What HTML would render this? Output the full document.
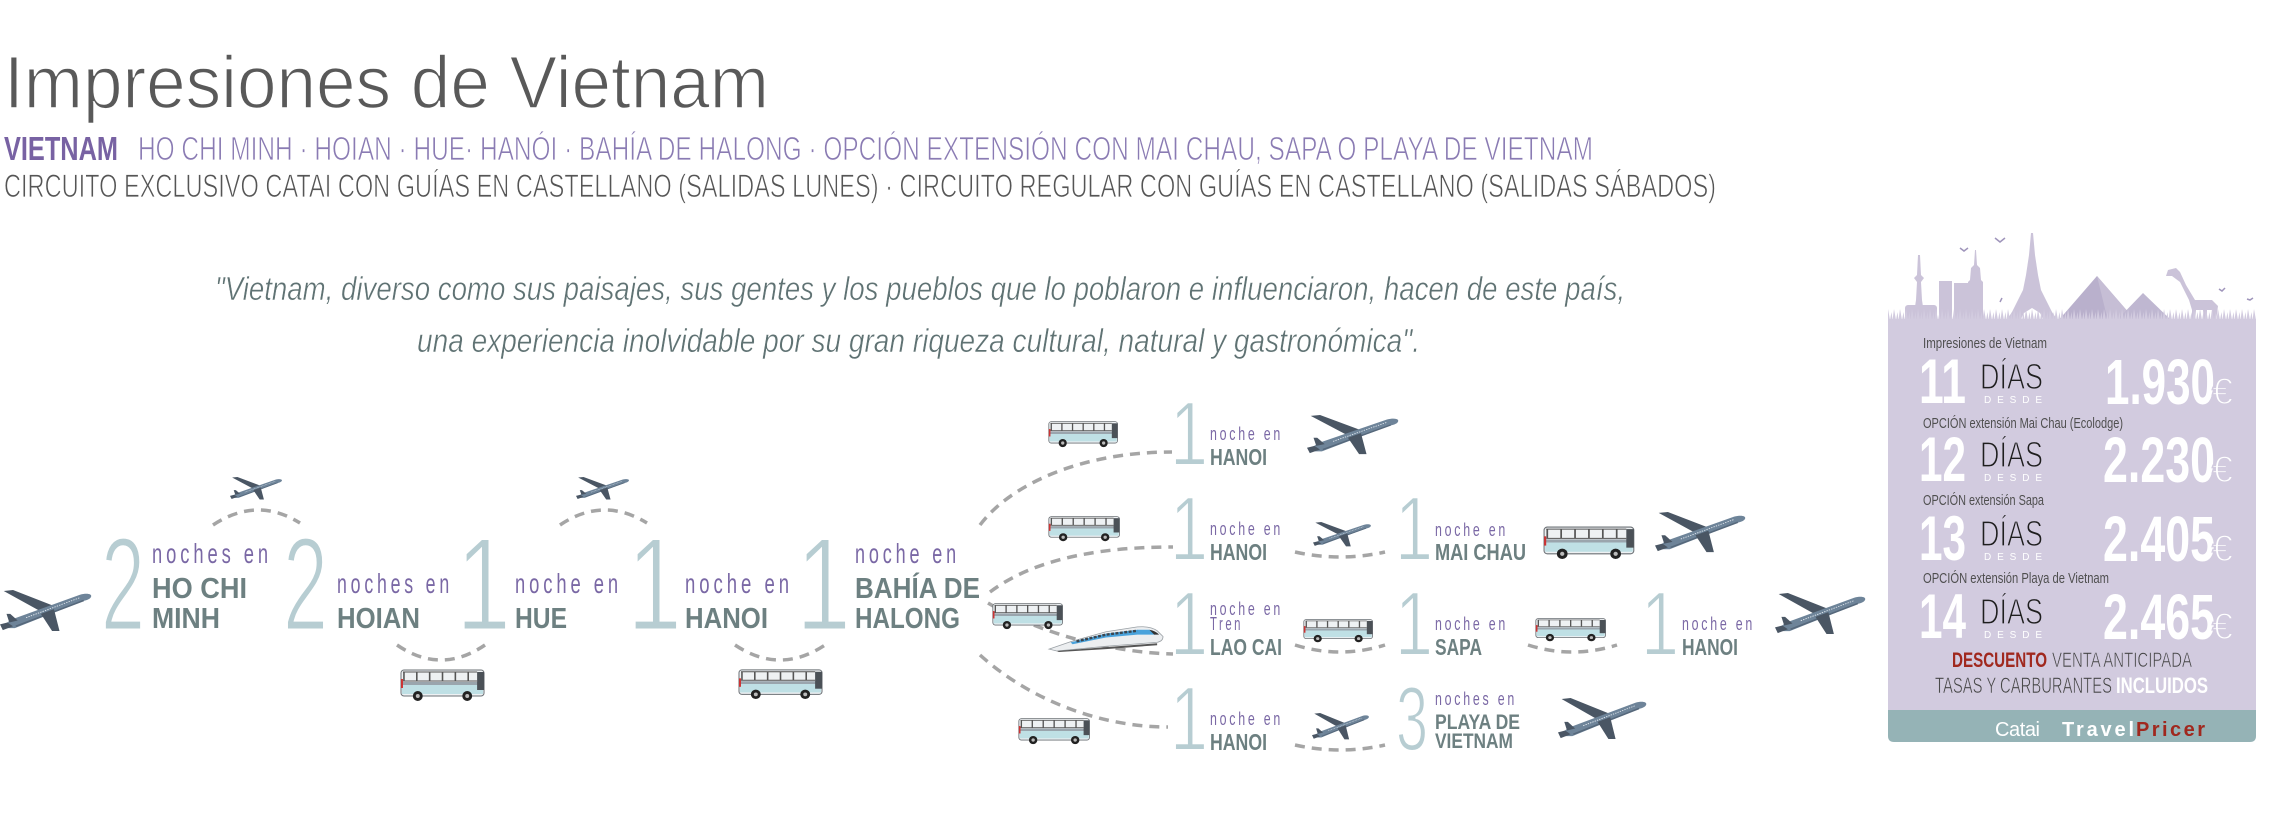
<!DOCTYPE html>
<html>
<head>
<meta charset="utf-8">
<style>
html,body{margin:0;padding:0;background:#fff;}
body{width:2278px;height:816px;overflow:hidden;}
svg{display:block;}
text{font-family:"Liberation Sans","DejaVu Sans",sans-serif;}
</style>
</head>
<body>
<svg width="2278" height="816" viewBox="0 0 2278 816" xmlns="http://www.w3.org/2000/svg">
<defs>
  <symbol id="plane" viewBox="0 0 100 44" preserveAspectRatio="none">
    <polygon points="4,1 14,0 56,16 43,22" fill="#4a5664"/>
    <path d="M5,36 L12,31 L86,5 C93,3 99,4 98,7 C97,10 92,11 88,12 L16,40 L8,40 Z" fill="#6e8499"/>
    <line x1="17" y1="38" x2="90" y2="11" stroke="#56687b" stroke-width="1.6"/>
    <line x1="28" y1="29" x2="86" y2="8" stroke="#e4eaf0" stroke-width="0.9" stroke-dasharray="1.5 1.2"/>
    <polygon points="44,25 58,20 64,43 56,43" fill="#4a5664"/>
    <polygon points="7,25 11,25 19,32 10,34" fill="#4a5664"/>
    <polygon points="0,36 8,34 14,38 3,42" fill="#4a5664"/>
  </symbol>
  <symbol id="bus" viewBox="0 0 88 34" preserveAspectRatio="none">
    <rect x="1" y="2" width="84" height="26" rx="3" fill="#eef1f3" stroke="#6b7075" stroke-width="1"/>
    <rect x="2" y="16" width="82" height="10" fill="#bfe0e5"/>
    <rect x="2" y="14" width="82" height="3" fill="#9aa5ad"/>
    <path d="M3,4 H78 M3,13 H78" stroke="#555" stroke-width="1"/>
    <path d="M4,4 V13 M17,4 V13 M30,4 V13 M43,4 V13 M56,4 V13 M69,4 V13" stroke="#555" stroke-width="1.6"/>
    <rect x="78" y="4" width="7" height="18" fill="#4b5157"/>
    <rect x="1" y="11" width="2" height="9" fill="#c33"/>
    <circle cx="18" cy="28" r="5" fill="#222"/><circle cx="18" cy="28" r="2" fill="#bbb"/>
    <circle cx="68" cy="28" r="5" fill="#222"/><circle cx="68" cy="28" r="2" fill="#bbb"/>
  </symbol>
  <symbol id="train" viewBox="0 0 120 30" preserveAspectRatio="none">
    <path d="M2,27 L25,19 L60,9 L92,4 Q105,3 112,8 L118,14 Q118,19 112,20 L60,24 L10,29 Z" fill="#eceef0" stroke="#9aa0a5" stroke-width="0.8"/>
    <path d="M24,20 L60,11 L92,7 L104,7 L110,12 L92,12 L60,15 L26,22 Z" fill="#4aa3dc"/>
    <path d="M30,19 L60,12 L92,8" stroke="#3b4650" stroke-width="2.5" stroke-dasharray="3 1.5" fill="none"/>
    <path d="M104,7 Q110,8 114,12 L109,12 Z" fill="#333"/>
    <path d="M10,29 L60,25 L112,21 L112,23 L60,27 L12,30 Z" fill="#555"/>
  </symbol>
  <pattern id="grass" x="0" y="308" width="6" height="12" patternUnits="userSpaceOnUse">
    <path d="M0,12 L1.5,4 L2.5,12 L4,1 L6,12 Z" fill="#d2cbdf"/>
  </pattern>
</defs>

<!-- HEADER -->
<text x="4" y="108" font-size="74" fill="#595959" stroke="#fff" stroke-width="1.5" textLength="765" lengthAdjust="spacingAndGlyphs">Impresiones de Vietnam</text>
<text x="4" y="160" font-size="33" font-weight="bold" fill="#7862a3" textLength="114" lengthAdjust="spacingAndGlyphs">VIETNAM</text>
<text x="138" y="160" font-size="33" fill="#8a7bb3" stroke="#fff" stroke-width="0.8" textLength="1455" lengthAdjust="spacingAndGlyphs">HO CHI MINH · HOIAN · HUE· HANÓI · BAHÍA DE HALONG · OPCIÓN EXTENSIÓN CON MAI CHAU, SAPA O PLAYA DE VIETNAM</text>
<text x="4" y="197" font-size="32" fill="#555" stroke="#fff" stroke-width="0.8" textLength="1712" lengthAdjust="spacingAndGlyphs">CIRCUITO EXCLUSIVO CATAI CON GUÍAS EN CASTELLANO (SALIDAS LUNES) · CIRCUITO REGULAR CON GUÍAS EN CASTELLANO (SALIDAS SÁBADOS)</text>

<!-- QUOTE -->
<text x="215" y="300" font-size="33" font-style="italic" fill="#5f7273" stroke="#fff" stroke-width="0.5" textLength="1410" lengthAdjust="spacingAndGlyphs">"Vietnam, diverso como sus paisajes, sus gentes y los pueblos que lo poblaron e influenciaron, hacen de este país,</text>
<text x="417" y="352" font-size="33" font-style="italic" fill="#5f7273" stroke="#fff" stroke-width="0.5" textLength="1003" lengthAdjust="spacingAndGlyphs">una experiencia inolvidable por su gran riqueza cultural, natural y gastronómica".</text>

<!-- DASHED CONNECTORS -->
<g fill="none" stroke="#a5a5a5" stroke-width="3.5" stroke-dasharray="10 7">
  <path d="M213,525 Q257,496 300,523"/>
  <path d="M560,525 Q603,496 647,523"/>
  <path d="M397,645 Q441,675 485,645"/>
  <path d="M735,645 Q780,675 825,645"/>
  <path d="M980,525 C1010,485 1080,452 1172,452"/>
  <path d="M990,592 C1030,562 1090,547 1173,547"/>
  <path d="M988,603 C1030,628 1100,652 1173,654"/>
  <path d="M980,655 C1030,700 1100,727 1168,727"/>
  <path d="M1295,552 Q1340,562 1385,552"/>
  <path d="M1295,645 Q1340,659 1385,645"/>
  <path d="M1528,645 Q1572,659 1617,645"/>
  <path d="M1295,745 Q1340,755 1385,745"/>
</g>

<!-- ICONS -->
<use href="#plane" x="0" y="590" width="93" height="42"/>
<use href="#plane" x="230" y="477" width="53" height="23"/>
<use href="#plane" x="576" y="477" width="54" height="23"/>
<use href="#plane" x="1307" y="415" width="93" height="40"/>
<use href="#plane" x="1313" y="522" width="59" height="25"/>
<use href="#plane" x="1655" y="512" width="92" height="41"/>
<use href="#plane" x="1775" y="593" width="92" height="42"/>
<use href="#plane" x="1312" y="713" width="58" height="27"/>
<use href="#plane" x="1558" y="698" width="90" height="42"/>

<use href="#bus" x="400" y="668" width="87" height="34"/>
<use href="#bus" x="738" y="668" width="87" height="32"/>
<use href="#bus" x="1048" y="420" width="72" height="28"/>
<use href="#bus" x="1048" y="515" width="74" height="27"/>
<use href="#bus" x="992" y="602" width="73" height="28"/>
<use href="#bus" x="1303" y="618" width="72" height="25"/>
<use href="#bus" x="1535" y="617" width="73" height="25"/>
<use href="#bus" x="1018" y="717" width="74" height="28"/>
<use href="#bus" x="1543" y="525" width="94" height="35"/>
<use href="#train" x="1047" y="623" width="118" height="29"/>

<!-- MAIN ROUTE NUMERALS -->
<g fill="#b7cdd2" stroke="#fff" stroke-width="3" font-size="133">
  <text x="101" y="630" textLength="44" lengthAdjust="spacingAndGlyphs">2</text>
  <text x="283" y="630" textLength="45" lengthAdjust="spacingAndGlyphs">2</text>
  <text x="456" y="630" textLength="55" lengthAdjust="spacingAndGlyphs">1</text>
  <text x="627" y="630" textLength="55" lengthAdjust="spacingAndGlyphs">1</text>
  <text x="796" y="630" textLength="55" lengthAdjust="spacingAndGlyphs">1</text>
</g>
<g fill="#7a68a5" font-size="28" letter-spacing="6">
  <text x="152" y="563" textLength="120" lengthAdjust="spacingAndGlyphs">noches en</text>
  <text x="337" y="593" textLength="116" lengthAdjust="spacingAndGlyphs">noches en</text>
  <text x="515" y="593" textLength="107" lengthAdjust="spacingAndGlyphs">noche en</text>
  <text x="685" y="593" textLength="108" lengthAdjust="spacingAndGlyphs">noche en</text>
  <text x="855" y="563" textLength="105" lengthAdjust="spacingAndGlyphs">noche en</text>
</g>
<g fill="#6d8081" font-size="29" font-weight="bold">
  <text x="152" y="598" textLength="95" lengthAdjust="spacingAndGlyphs">HO CHI</text>
  <text x="152" y="628" textLength="68" lengthAdjust="spacingAndGlyphs">MINH</text>
  <text x="337" y="628" textLength="83" lengthAdjust="spacingAndGlyphs">HOIAN</text>
  <text x="515" y="628" textLength="52" lengthAdjust="spacingAndGlyphs">HUE</text>
  <text x="685" y="628" textLength="83" lengthAdjust="spacingAndGlyphs">HANOI</text>
  <text x="855" y="598" textLength="125" lengthAdjust="spacingAndGlyphs">BAHÍA DE</text>
  <text x="855" y="628" textLength="105" lengthAdjust="spacingAndGlyphs">HALONG</text>
</g>

<!-- BRANCH NUMERALS -->
<g fill="#b7cdd2" stroke="#fff" stroke-width="2" font-size="91">
  <text x="1170" y="465" textLength="38" lengthAdjust="spacingAndGlyphs">1</text>
  <text x="1170" y="560" textLength="38" lengthAdjust="spacingAndGlyphs">1</text>
  <text x="1170" y="655" textLength="38" lengthAdjust="spacingAndGlyphs">1</text>
  <text x="1170" y="750" textLength="38" lengthAdjust="spacingAndGlyphs">1</text>
  <text x="1395" y="560" textLength="38" lengthAdjust="spacingAndGlyphs">1</text>
  <text x="1395" y="655" textLength="38" lengthAdjust="spacingAndGlyphs">1</text>
  <text x="1641" y="655" textLength="38" lengthAdjust="spacingAndGlyphs">1</text>
  <text x="1396" y="750" textLength="32" lengthAdjust="spacingAndGlyphs">3</text>
</g>
<g fill="#7a68a5" font-size="18" letter-spacing="4">
  <text x="1210" y="440" textLength="73" lengthAdjust="spacingAndGlyphs">noche en</text>
  <text x="1210" y="535" textLength="73" lengthAdjust="spacingAndGlyphs">noche en</text>
  <text x="1435" y="536" textLength="73" lengthAdjust="spacingAndGlyphs">noche en</text>
  <text x="1210" y="615" textLength="73" lengthAdjust="spacingAndGlyphs">noche en</text>
  <text x="1210" y="630" textLength="33" lengthAdjust="spacingAndGlyphs">Tren</text>
  <text x="1435" y="630" textLength="73" lengthAdjust="spacingAndGlyphs">noche en</text>
  <text x="1682" y="630" textLength="73" lengthAdjust="spacingAndGlyphs">noche en</text>
  <text x="1210" y="725" textLength="73" lengthAdjust="spacingAndGlyphs">noche en</text>
  <text x="1435" y="705" textLength="82" lengthAdjust="spacingAndGlyphs">noches en</text>
</g>
<g fill="#6d8081" font-size="23" font-weight="bold">
  <text x="1210" y="465" textLength="57" lengthAdjust="spacingAndGlyphs">HANOI</text>
  <text x="1210" y="560" textLength="57" lengthAdjust="spacingAndGlyphs">HANOI</text>
  <text x="1435" y="560" textLength="91" lengthAdjust="spacingAndGlyphs">MAI CHAU</text>
  <text x="1210" y="655" textLength="72" lengthAdjust="spacingAndGlyphs">LAO CAI</text>
  <text x="1435" y="655" textLength="47" lengthAdjust="spacingAndGlyphs">SAPA</text>
  <text x="1682" y="655" textLength="56" lengthAdjust="spacingAndGlyphs">HANOI</text>
  <text x="1210" y="750" textLength="57" lengthAdjust="spacingAndGlyphs">HANOI</text>
</g>
<g fill="#6d8081" font-size="21" font-weight="bold">
  <text x="1435" y="729" textLength="85" lengthAdjust="spacingAndGlyphs">PLAYA DE</text>
  <text x="1435" y="748" textLength="78" lengthAdjust="spacingAndGlyphs">VIETNAM</text>
</g>

<!-- PRICE BOX -->
<g>
  <g fill="#cbc3d9">
    <polygon points="1918,255 1920,255 1921,275 1924,278 1921,282 1922,300 1925,320 1913,320 1916,300 1917,282 1914,278 1917,275"/>
    <rect x="1905" y="305" width="32" height="16" rx="3"/>
    <rect x="1939" y="281" width="13" height="40"/>
    <rect x="1954" y="283" width="14" height="38"/>
    <polygon points="1975,250 1976,250 1977,265 1980,268 1981,280 1983,282 1983,320 1968,320 1968,282 1970,280 1971,268 1974,265"/>
    <polygon points="2031,233 2033,233 2035,255 2038,275 2041,290 2046,300 2052,312 2058,321 2044,321 2040,313 2032,308 2024,313 2020,321 2006,321 2012,312 2018,300 2023,290 2026,275 2029,255"/>
    <polygon points="2168,270 2176,268 2180,272 2186,285 2195,300 2212,300 2218,306 2216,321 2213,321 2212,310 2207,310 2207,321 2204,321 2203,310 2196,310 2195,321 2192,321 2192,310 2189,300 2180,282 2172,276 2166,276"/>
  </g>
  <polygon points="2097,276 2058,321 2136,321" fill="#b9b0cc"/>
  <polygon points="2097,276 2136,321 2108,321" fill="#c6bed5"/>
  <polygon points="2143,293 2116,321 2172,321" fill="#bfb7d1"/>
  <g fill="none" stroke="#9f95bb" stroke-width="1.5">
    <path d="M1960,248 l4,3 l4,-3"/>
    <path d="M1995,238 l5,4 l5,-4"/>
    <path d="M2000,302 l2,-4"/>
    <path d="M2219,289 l3,2 l3,-3"/>
    <path d="M2247,299 l3,1 l3,-2"/>
  </g>
  <rect x="1888" y="308" width="368" height="12" fill="url(#grass)"/>
  <rect x="1888" y="319" width="368" height="392" fill="#d2cbdf"/>
  <path d="M1888,710 H2256 V736 Q2256,742 2250,742 H1894 Q1888,742 1888,736 Z" fill="#95b3b6"/>

  <g fill="#4f4f4f" font-size="15">
    <text x="1923" y="348" textLength="124" lengthAdjust="spacingAndGlyphs">Impresiones de Vietnam</text>
    <text x="1923" y="428" textLength="200" lengthAdjust="spacingAndGlyphs">OPCIÓN extensión Mai Chau (Ecolodge)</text>
    <text x="1923" y="505" textLength="121" lengthAdjust="spacingAndGlyphs">OPCIÓN extensión Sapa</text>
    <text x="1923" y="583" textLength="186" lengthAdjust="spacingAndGlyphs">OPCIÓN extensión Playa de Vietnam</text>
  </g>
  <g fill="#fff" font-size="63" font-weight="bold">
    <text x="1919" y="403" textLength="47" lengthAdjust="spacingAndGlyphs">11</text>
    <text x="1919" y="481" textLength="47" lengthAdjust="spacingAndGlyphs">12</text>
    <text x="1919" y="560" textLength="47" lengthAdjust="spacingAndGlyphs">13</text>
    <text x="1919" y="638" textLength="47" lengthAdjust="spacingAndGlyphs">14</text>
  </g>
  <g fill="#1e1e1e" stroke="#d2cbdf" stroke-width="1.2" font-size="36">
    <text x="1980" y="389" textLength="63" lengthAdjust="spacingAndGlyphs">DÍAS</text>
    <text x="1980" y="467" textLength="63" lengthAdjust="spacingAndGlyphs">DÍAS</text>
    <text x="1980" y="546" textLength="63" lengthAdjust="spacingAndGlyphs">DÍAS</text>
    <text x="1980" y="624" textLength="63" lengthAdjust="spacingAndGlyphs">DÍAS</text>
  </g>
  <g fill="#fff" font-size="10">
    <text x="1984" y="403" textLength="58" lengthAdjust="spacing">DESDE</text>
    <text x="1984" y="481" textLength="58" lengthAdjust="spacing">DESDE</text>
    <text x="1984" y="560" textLength="58" lengthAdjust="spacing">DESDE</text>
    <text x="1984" y="638" textLength="58" lengthAdjust="spacing">DESDE</text>
  </g>
  <g fill="#fff" font-size="64" font-weight="bold">
    <text x="2105" y="404" textLength="110" lengthAdjust="spacingAndGlyphs">1.930</text>
    <text x="2103" y="482" textLength="112" lengthAdjust="spacingAndGlyphs">2.230</text>
    <text x="2103" y="561" textLength="112" lengthAdjust="spacingAndGlyphs">2.405</text>
    <text x="2103" y="639" textLength="112" lengthAdjust="spacingAndGlyphs">2.465</text>
  </g>
  <g fill="#fff" stroke="#d2cbdf" stroke-width="1.5" font-size="37">
    <text x="2212" y="404" textLength="21" lengthAdjust="spacingAndGlyphs">€</text>
    <text x="2212" y="482" textLength="21" lengthAdjust="spacingAndGlyphs">€</text>
    <text x="2212" y="561" textLength="21" lengthAdjust="spacingAndGlyphs">€</text>
    <text x="2212" y="639" textLength="21" lengthAdjust="spacingAndGlyphs">€</text>
  </g>
  <text x="1952" y="667" font-size="21" font-weight="bold" fill="#a0281e" textLength="95" lengthAdjust="spacingAndGlyphs">DESCUENTO</text>
  <text x="2052" y="667" font-size="21" fill="#444" stroke="#d2cbdf" stroke-width="0.6" textLength="140" lengthAdjust="spacingAndGlyphs">VENTA ANTICIPADA</text>
  <text x="1935" y="693" font-size="22" fill="#444" stroke="#d2cbdf" stroke-width="0.6" textLength="177" lengthAdjust="spacingAndGlyphs">TASAS Y CARBURANTES</text>
  <text x="2116" y="693" font-size="22" font-weight="bold" fill="#fff" textLength="92" lengthAdjust="spacingAndGlyphs">INCLUIDOS</text>
  <text x="1995" y="736" font-size="20" fill="#fff" textLength="45" lengthAdjust="spacing">Catai</text>
  <text x="2062" y="736" font-size="20" font-weight="bold" fill="#fff" textLength="72" lengthAdjust="spacing">Travel</text>
  <text x="2136" y="736" font-size="20" font-weight="bold" fill="#a0281e" textLength="69" lengthAdjust="spacing">Pricer</text>
</g>
</svg>
</body>
</html>
